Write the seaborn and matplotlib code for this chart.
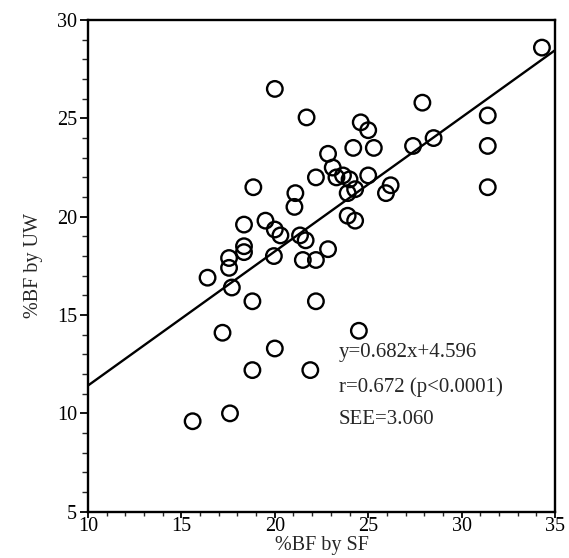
import numpy as np
import pandas as pd
import matplotlib
matplotlib.use("Agg")
import matplotlib.pyplot as plt
from matplotlib.ticker import MultipleLocator
import seaborn as sns

# %BF by SF (x) and %BF by UW (y)
bf_sf = [34.3, 20.0, 21.7, 27.9, 31.4, 31.4, 31.4, 28.5, 27.4, 24.6,
         25.0, 24.2, 25.3, 22.85, 23.1, 22.2, 23.3, 23.65, 24.0, 25.0,
         23.9, 24.3, 25.95, 26.2, 23.9, 24.3, 21.65, 22.85, 22.2, 21.5,
         18.85, 21.1, 21.05, 18.35, 19.5, 20.0, 20.3, 21.35, 18.35, 18.35,
         17.55, 17.55, 16.4, 17.7, 18.8, 19.95, 17.2, 20.0, 18.8, 21.9,
         17.6, 15.6, 22.2, 24.5]
bf_uw = [28.6, 26.5, 25.05, 25.8, 25.15, 23.6, 21.5, 24.0, 23.6, 24.8,
         24.4, 23.5, 23.5, 23.2, 22.5, 22.0, 22.0, 22.1, 21.9, 22.1,
         21.2, 21.4, 21.2, 21.6, 20.05, 19.8, 18.8, 18.35, 17.8, 17.8,
         21.5, 21.2, 20.5, 19.6, 19.8, 19.35, 19.05, 19.05, 18.5, 18.2,
         17.9, 17.4, 16.9, 16.4, 15.7, 18.0, 14.1, 13.3, 12.2, 12.2,
         10.0, 9.6, 15.7, 14.2]

slope = 0.682
intercept = 4.596
x_range = [10, 35]
y_range = [5, 30]
x_ticks = [10, 15, 20, 25, 30, 35]
y_ticks = [5, 10, 15, 20, 25, 30]
stats_lines = ["y=0.682x+4.596", "r=0.672 (p<0.0001)", "SEE=3.060"]

sns.set_style("ticks")
plt.rcParams['font.family'] = ['Liberation Serif', 'DejaVu Serif']

df = pd.DataFrame({"sf": bf_sf, "uw": bf_uw})
xs = np.array(x_range, dtype=float)
line_df = pd.DataFrame({"x": xs, "y": slope * xs + intercept})

fig = plt.figure(figsize=(5.69, 5.58), dpi=100)
ax = fig.add_axes([0.1547, 0.083, 0.8207, 0.881])

sns.lineplot(data=line_df, x="x", y="y", ax=ax, color="black", linewidth=1.7, zorder=2)
sns.scatterplot(data=df, x="sf", y="uw", ax=ax, s=125, facecolors="none",
                edgecolor="black", linewidth=1.7, zorder=3)

ax.set_xlim(*x_range)
ax.set_ylim(*y_range)
ax.set_xticks(x_ticks)
ax.set_yticks(y_ticks)
ax.xaxis.set_minor_locator(MultipleLocator(1))
ax.yaxis.set_minor_locator(MultipleLocator(1))
ax.tick_params(which="major", direction="out", length=6, width=1.3, labelsize=14.5,
               colors="black")
ax.tick_params(which="minor", direction="out", length=4, width=1.0)
ax.tick_params(axis="x", which="major", length=4, pad=0)
ax.tick_params(axis="x", which="minor", length=3)
ax.tick_params(axis="y", which="major", pad=2)
ax.tick_params(top=False, right=False, which="both")
for sp in ax.spines.values():
    sp.set_visible(True)
    sp.set_linewidth(1.7)
    sp.set_color("black")

ax.set_xlabel("%BF by SF", fontsize=14.5, labelpad=0)
ax.set_ylabel("%BF by UW", fontsize=14.5, labelpad=10)

ypos = [0.323, 0.254, 0.188]
for t, yy in zip(stats_lines, ypos):
    ax.text(0.537, yy, t, transform=ax.transAxes, fontsize=15, va="center", ha="left")

fig.savefig("out.png", dpi=100)
